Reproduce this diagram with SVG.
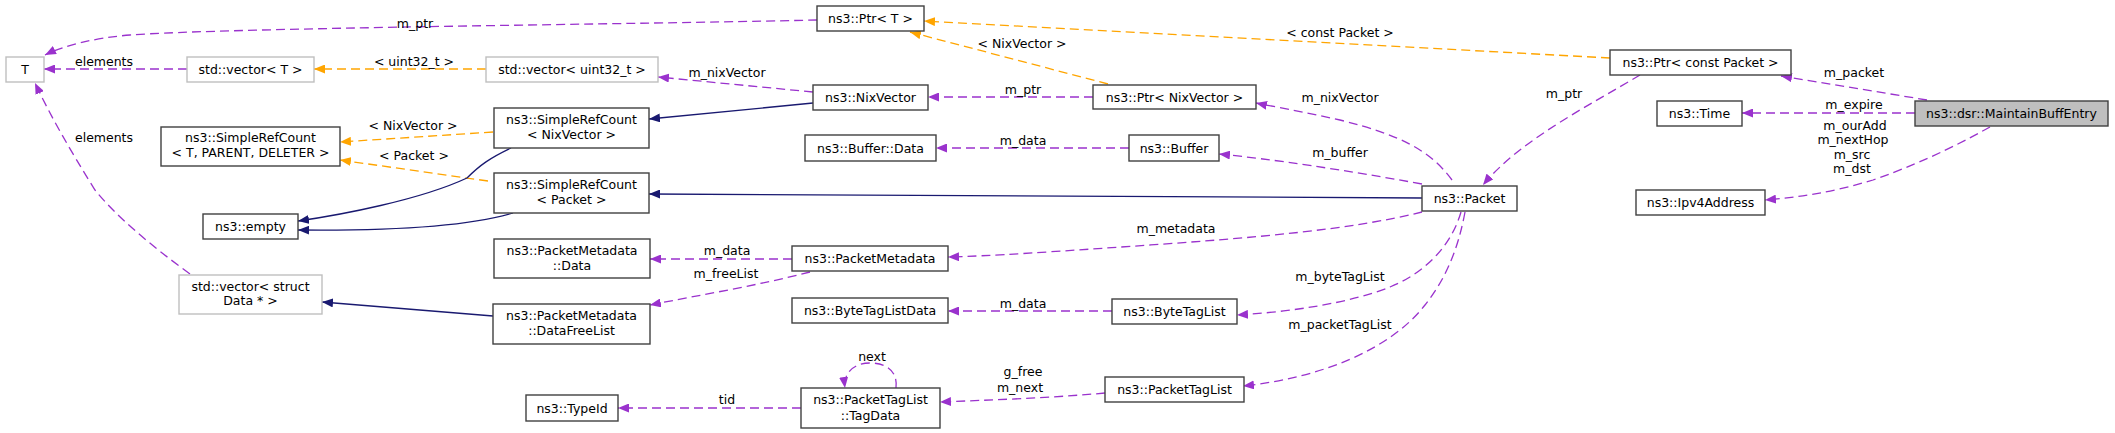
<svg xmlns="http://www.w3.org/2000/svg" width="2115" height="433" viewBox="0 0 2115 433">
<style>
text{font-family:"DejaVu Sans","Liberation Sans",sans-serif;font-size:12.5px;fill:#000}
.n{text-anchor:middle}
.l{text-anchor:middle}
.box{fill:#fff;stroke:#404040;stroke-width:1.4}
.gbox{fill:#fff;stroke:#bfbfbf;stroke-width:1.4}
.sel{fill:#bfbfbf;stroke:#404040;stroke-width:1.4}
.p{fill:none;stroke:#9a32cd;stroke-width:1.3;stroke-dasharray:9,5;marker-end:url(#ap)}
.o{fill:none;stroke:#ffa500;stroke-width:1.3;stroke-dasharray:9,5;marker-end:url(#ao)}
.b{fill:none;stroke:#191970;stroke-width:1.3;marker-end:url(#ab)}
</style>
<defs>
<marker id="ap" markerUnits="userSpaceOnUse" markerWidth="12" markerHeight="9" refX="11" refY="4.5" orient="auto"><path d="M0,0 L11,4.5 L0,9 z" fill="#9a32cd"/></marker>
<marker id="ao" markerUnits="userSpaceOnUse" markerWidth="12" markerHeight="9" refX="11" refY="4.5" orient="auto"><path d="M0,0 L11,4.5 L0,9 z" fill="#ffa500"/></marker>
<marker id="ab" markerUnits="userSpaceOnUse" markerWidth="12" markerHeight="9" refX="11" refY="4.5" orient="auto"><path d="M0,0 L11,4.5 L0,9 z" fill="#191970"/></marker>
</defs>
<rect width="2115" height="433" fill="#fff"/>
<g id="edges">
<path class="p" d="M817,20 C650,24 220,28 130,35 C95,38 65,45 45,55"/>
<text class="l" x="415" y="27.5">m_ptr</text>
<path class="p" d="M187,69 L44,69"/>
<text class="l" x="104" y="65.5">elements</text>
<path class="o" d="M486,69 L314,69"/>
<text class="l" x="414" y="65.5">&lt; uint32_t &gt;</text>
<path class="o" d="M1610,58 L924,21"/>
<text class="l" x="1340" y="36.5">&lt; const Packet &gt;</text>
<path class="o" d="M1108,84 L910,32"/>
<text class="l" x="1022" y="47.5">&lt; NixVector &gt;</text>
<path class="p" d="M813,92 L658,77"/>
<text class="l" x="727" y="76.5">m_nixVector</text>
<path class="p" d="M1093,97 L928,97"/>
<text class="l" x="1023" y="93.5">m_ptr</text>
<path class="b" d="M813,103 L649,119"/>
<path class="o" d="M493,132 L340,142"/>
<text class="l" x="413" y="129.5">&lt; NixVector &gt;</text>
<path class="o" d="M488,181 L340,160"/>
<text class="l" x="414" y="159.5">&lt; Packet &gt;</text>
<path class="b" d="M511,148 C490,158 480,165 467,178 C420,200 340,215 298,221"/>
<path class="b" d="M513,213 C470,226 400,231 298,230"/>
<path class="b" d="M1422,198 L649,194"/>
<path class="p" d="M1452,180 C1430,150 1400,135 1340,120 C1300,111 1270,106 1256,103"/>
<text class="l" x="1340" y="101.5">m_nixVector</text>
<path class="p" d="M1422,184 Q1300,162 1219,154"/>
<text class="l" x="1340" y="156.5">m_buffer</text>
<path class="p" d="M1129,148 L936,148"/>
<text class="l" x="1023" y="144.5">m_data</text>
<path class="p" d="M1422,212 C1350,230 1250,238 1150,245 C1050,252 990,256 948,257"/>
<text class="l" x="1176" y="232.5">m_metadata</text>
<path class="p" d="M792,259 L650,259"/>
<text class="l" x="727" y="254.5">m_data</text>
<path class="p" d="M810,272 C760,285 700,295 650,305"/>
<text class="l" x="726" y="277.5">m_freeList</text>
<path class="b" d="M493,316 L322,302"/>
<path class="p" d="M190,274 C150,245 115,215 95,190 C70,150 50,115 35,83"/>
<text class="l" x="104" y="141.5">elements</text>
<path class="p" d="M1461,212 C1450,250 1420,275 1390,287 C1350,303 1290,312 1237,315"/>
<text class="l" x="1340" y="280.5">m_byteTagList</text>
<path class="p" d="M1112,311 L948,311"/>
<text class="l" x="1023" y="307.5">m_data</text>
<path class="p" d="M1465,212 C1458,250 1445,280 1425,305 C1390,350 1320,378 1243,386"/>
<text class="l" x="1340" y="328.5">m_packetTagList</text>
<path class="p" d="M1105,393 C1050,398 990,400 940,402"/>
<text class="l" x="1023" y="375.5">g_free</text>
<text class="l" x="1020" y="391.5">m_next</text>
<path class="p" d="M801,408 L618,408"/>
<text class="l" x="727" y="403.5">tid</text>
<path class="p" d="M896,388 C898,370 885,363 870,363 C855,363 843,372 845,388"/>
<text class="l" x="872" y="360.5">next</text>
<path class="p" d="M1927,100 L1781,76"/>
<text class="l" x="1854" y="76.5">m_packet</text>
<path class="p" d="M1915,113 L1742,113"/>
<text class="l" x="1854" y="108.5">m_expire</text>
<path class="p" d="M1990,127 C1970,138 1930,160 1873,180 C1830,193 1800,197 1765,200"/>
<text class="l" x="1855" y="129.5">m_ourAdd</text>
<text class="l" x="1853" y="144">m_nextHop</text>
<text class="l" x="1852" y="158.5">m_src</text>
<text class="l" x="1852" y="172.5">m_dst</text>
<path class="p" d="M1640,75 C1590,105 1520,140 1483,185"/>
<text class="l" x="1564" y="97.5">m_ptr</text>
</g>
<g id="node_T"><rect class="gbox" x="6" y="57" width="38" height="25"/><text class="n" x="25" y="74">T</text></g>
<g id="node_vecT"><rect class="gbox" x="187" y="57" width="127" height="25"/><text class="n" x="250.5" y="74">std::vector&lt; T &gt;</text></g>
<g id="node_vecU"><rect class="gbox" x="486" y="57" width="172" height="25"/><text class="n" x="572" y="74">std::vector&lt; uint32_t &gt;</text></g>
<g id="node_PtrT"><rect class="box" x="817" y="6" width="107" height="25"/><text class="n" x="870.5" y="23">ns3::Ptr&lt; T &gt;</text></g>
<g id="node_NixVector"><rect class="box" x="813" y="85" width="115" height="25"/><text class="n" x="870.5" y="102">ns3::NixVector</text></g>
<g id="node_SRCNix"><rect class="box" x="494" y="108" width="155" height="40"/><text class="n" x="571.5" y="123.5">ns3::SimpleRefCount</text><text class="n" x="571.5" y="138.5">&lt; NixVector &gt;</text></g>
<g id="node_SRCTPD"><rect class="box" x="161" y="127" width="179" height="39"/><text class="n" x="250.5" y="142">ns3::SimpleRefCount</text><text class="n" x="250.5" y="157">&lt; T, PARENT, DELETER &gt;</text></g>
<g id="node_BufferData"><rect class="box" x="805" y="135" width="131" height="26"/><text class="n" x="870.5" y="152.5">ns3::Buffer::Data</text></g>
<g id="node_PtrNix"><rect class="box" x="1093" y="85" width="163" height="24"/><text class="n" x="1174.5" y="101.5">ns3::Ptr&lt; NixVector &gt;</text></g>
<g id="node_Buffer"><rect class="box" x="1129" y="135" width="90" height="26"/><text class="n" x="1174" y="152.5">ns3::Buffer</text></g>
<g id="node_PtrConstPacket"><rect class="box" x="1610" y="50" width="181" height="25"/><text class="n" x="1700.5" y="67">ns3::Ptr&lt; const Packet &gt;</text></g>
<g id="node_Time"><rect class="box" x="1657" y="101" width="85" height="25"/><text class="n" x="1699.5" y="118">ns3::Time</text></g>
<g id="node_MBE"><rect class="sel" x="1915" y="101" width="193" height="25"/><text class="n" x="2011.5" y="118">ns3::dsr::MaintainBuffEntry</text></g>
<g id="node_Ipv4"><rect class="box" x="1636" y="190" width="129" height="25"/><text class="n" x="1700.5" y="207">ns3::Ipv4Address</text></g>
<g id="node_Packet"><rect class="box" x="1422" y="186" width="95" height="25"/><text class="n" x="1469.5" y="203">ns3::Packet</text></g>
<g id="node_empty"><rect class="box" x="203" y="214" width="95" height="25"/><text class="n" x="250.5" y="231">ns3::empty</text></g>
<g id="node_SRCPacket"><rect class="box" x="494" y="173" width="155" height="40"/><text class="n" x="571.5" y="188.8">ns3::SimpleRefCount</text><text class="n" x="571.5" y="203.8">&lt; Packet &gt;</text></g>
<g id="node_PMData"><rect class="box" x="494" y="239" width="156" height="39"/><text class="n" x="572" y="254.5">ns3::PacketMetadata</text><text class="n" x="572" y="269.5">::Data</text></g>
<g id="node_PM"><rect class="box" x="792" y="246" width="156" height="25"/><text class="n" x="870" y="263">ns3::PacketMetadata</text></g>
<g id="node_vecStruct"><rect class="gbox" x="179" y="275" width="143" height="39"/><text class="n" x="250.5" y="290.5">std::vector&lt; struct</text><text class="n" x="250.5" y="305">Data * &gt;</text></g>
<g id="node_DFL"><rect class="box" x="493" y="304" width="157" height="40"/><text class="n" x="571.5" y="319.5">ns3::PacketMetadata</text><text class="n" x="571.5" y="335">::DataFreeList</text></g>
<g id="node_BTLD"><rect class="box" x="792" y="298" width="156" height="25"/><text class="n" x="870" y="315">ns3::ByteTagListData</text></g>
<g id="node_BTL"><rect class="box" x="1112" y="299" width="125" height="25"/><text class="n" x="1174.5" y="316">ns3::ByteTagList</text></g>
<g id="node_TypeId"><rect class="box" x="526" y="395" width="92" height="26"/><text class="n" x="572" y="412.5">ns3::TypeId</text></g>
<g id="node_TagData"><rect class="box" x="801" y="388" width="139" height="40"/><text class="n" x="870.5" y="403.5">ns3::PacketTagList</text><text class="n" x="870.5" y="419.5">::TagData</text></g>
<g id="node_PTL"><rect class="box" x="1105" y="377" width="139" height="25"/><text class="n" x="1174.5" y="394">ns3::PacketTagList</text></g>
</svg>
